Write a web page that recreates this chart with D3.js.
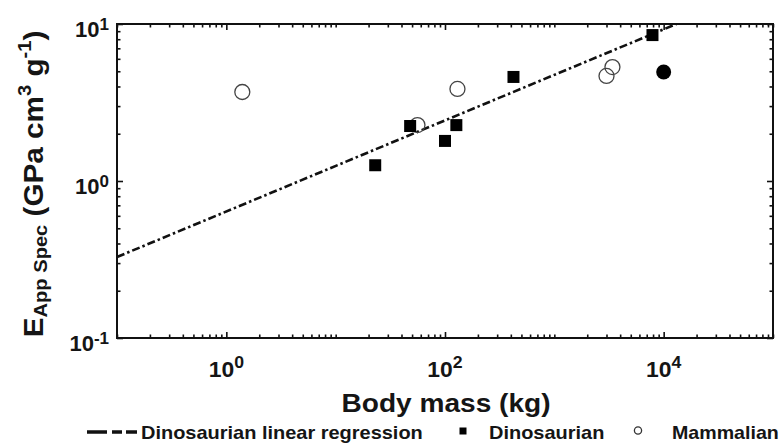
<!DOCTYPE html>
<html><head><meta charset="utf-8">
<script src="https://cdn.jsdelivr.net/npm/d3@7"></script>
<style>
html,body{margin:0;padding:0;background:#fff;}
text{font-family:"Liberation Sans",Arial,Helvetica,sans-serif;font-weight:bold;fill:#151515;}
</style></head>
<body><svg id="c" width="783" height="443"></svg>
<script>
// Data
const dinoMass = [23, 48, 100, 127, 423, 7900];
const dinoE    = [1.26, 2.24, 1.80, 2.27, 4.60, 8.5];
const mammalMass = [1.4, 56, 130, 3000, 3400];
const mammalE    = [3.69, 2.27, 3.86, 4.67, 5.32];
const filledMass = [10000];
const filledE    = [4.95];
const regressionMass = [0.1, 13100];
const regressionE    = [0.328, 10];
const xTickExps = [0, 2, 4];
const yTickExps = [-1, 0, 1];
const legendLabels = ["Dinosaurian linear regression", "Dinosaurian", "Mammalian"];

const svg = d3.select("#c");
const L = 117, R = 773, T = 24, B = 338;
const x = d3.scaleLog().domain([0.1, 1e5]).range([L, R]);
const y = d3.scaleLog().domain([0.1, 10]).range([B, T]);

// minor/major ticks
const xAll = [];
for (let e = -1; e < 5; e++) for (let m = 1; m < 10; m++) xAll.push(m * Math.pow(10, e));
xAll.push(1e5);
const yAll = [];
for (let e = -1; e < 1; e++) for (let m = 1; m < 10; m++) yAll.push(m * Math.pow(10, e));
yAll.push(10);
const isXMajor = v => xTickExps.some(e => Math.abs(v - Math.pow(10, e)) < 1e-9 * Math.pow(10, e));
const isYMajor = v => yTickExps.some(e => Math.abs(v - Math.pow(10, e)) < 1e-9 * Math.pow(10, e));

function drawAxis(axisGen, tr, vals) {
  const g = svg.append("g").attr("transform", tr);
  g.call(axisGen.tickValues(vals).tickFormat("").tickSizeOuter(0));
  g.select(".domain").remove();
  g.selectAll(".tick line").attr("stroke", "#111").attr("stroke-width", 1.6);
  return g;
}
const majorLen = 6, minorLen = 3.5;
[["bottom", B], ["top", T]].forEach(([side, pos]) => {
  const gen = side === "bottom" ? d3.axisBottom(x) : d3.axisTop(x);
  const g = drawAxis(gen, `translate(0,${pos})`, xAll);
  g.selectAll(".tick line").attr("y2", d => (side === "bottom" ? -1 : 1) * (isXMajor(d) ? majorLen : minorLen));
});
[["left", L], ["right", R]].forEach(([side, pos]) => {
  const gen = side === "left" ? d3.axisLeft(y) : d3.axisRight(y);
  const g = drawAxis(gen, `translate(${pos},0)`, yAll);
  g.selectAll(".tick line").attr("x2", d => (side === "left" ? 1 : -1) * (isYMajor(d) ? majorLen : minorLen));
});
// frame
svg.append("rect").attr("x", L).attr("y", T).attr("width", R - L).attr("height", B - T)
  .attr("fill", "none").attr("stroke", "#111").attr("stroke-width", 2);

// helper for horizontally-stretched text
function sText(tx, ty, sx, rot, size, anchor) {
  return svg.append("g").attr("transform", `translate(${tx},${ty}) rotate(${rot}) scale(${sx},1)`)
    .append("text").attr("text-anchor", anchor).style("font-size", size + "px");
}

// tick labels
xTickExps.forEach(e => {
  const t = sText(x(Math.pow(10, e)), B + 39, 1.04, 0, 22, "middle");
  t.append("tspan").text("10");
  t.append("tspan").attr("dy", -9).style("font-size", "17px").text(String(e));
});
yTickExps.forEach(e => {
  const t = sText(L - 8, y(Math.pow(10, e)) + 12.5, 1.0, 0, 22, "end");
  t.append("tspan").text("10");
  t.append("tspan").attr("dy", -7).style("font-size", "17px").text(e < 0 ? "-" + Math.abs(e) : String(e));
});

// axis titles
sText(446, 412, 1.08, 0, 26, "middle").text("Body mass (kg)");
const yt = sText(43, (T + B) / 2 + 3, 1.06, -90, 28, "middle");
yt.append("tspan").text("E");
yt.append("tspan").attr("dy", 4).style("font-size", "19px").text("App Spec");
yt.append("tspan").attr("dy", -4).text(" (GPa cm");
yt.append("tspan").attr("dy", -12).style("font-size", "19px").text("3");
yt.append("tspan").attr("dy", 12).text(" g");
yt.append("tspan").attr("dy", -12).style("font-size", "19px").text("-1");
yt.append("tspan").attr("dy", 12).text(")");

// clip
svg.append("clipPath").attr("id", "clip").append("rect")
  .attr("x", L).attr("y", T).attr("width", R - L).attr("height", B - T);
const plot = svg.append("g").attr("clip-path", "url(#clip)");

// regression line
const reg = regressionMass.map((m, i) => [m, regressionE[i]]);
plot.append("path").attr("d", d3.line().x(d => x(d[0])).y(d => y(d[1]))(reg))
  .attr("fill", "none").attr("stroke", "#111").attr("stroke-width", 2.6)
  .attr("stroke-dasharray", "8,3,2.5,3");

// mammalian open circles
plot.selectAll(".mam").data(mammalMass.map((m, i) => [m, mammalE[i]])).join("circle")
  .attr("class", "mam")
  .attr("cx", d => x(d[0])).attr("cy", d => y(d[1])).attr("r", 7.5)
  .attr("fill", "none").attr("stroke", "#444").attr("stroke-width", 1.3);
// filled circle
plot.selectAll(".fil").data(filledMass.map((m, i) => [m, filledE[i]])).join("circle")
  .attr("class", "fil")
  .attr("cx", d => x(d[0])).attr("cy", d => y(d[1])).attr("r", 7.5).attr("fill", "#000");
// dinosaur squares
const sq = 12;
plot.selectAll(".dino").data(dinoMass.map((m, i) => [m, dinoE[i]])).join("rect")
  .attr("class", "dino")
  .attr("x", d => x(d[0]) - sq / 2).attr("y", d => y(d[1]) - sq / 2)
  .attr("width", sq).attr("height", sq).attr("fill", "#000");

// legend
const ly = 432;
svg.append("line").attr("x1", 87).attr("x2", 137).attr("y1", ly).attr("y2", ly)
  .attr("stroke", "#111").attr("stroke-width", 3.4).attr("stroke-dasharray", "20,5,10,4");
sText(141, ly + 6.5, 1.11, 0, 18, "start").text(legendLabels[0]);
svg.append("rect").attr("x", 459.5).attr("y", ly - 4.5).attr("width", 7).attr("height", 7).attr("fill", "#000");
sText(489, ly + 6.5, 1.11, 0, 18, "start").text(legendLabels[1]);
svg.append("circle").attr("cx", 638).attr("cy", ly - 1.5).attr("r", 3.6)
  .attr("fill", "none").attr("stroke", "#333").attr("stroke-width", 1.3);
sText(672, ly + 6.5, 1.09, 0, 18, "start").text(legendLabels[2]);
</script></body></html>
